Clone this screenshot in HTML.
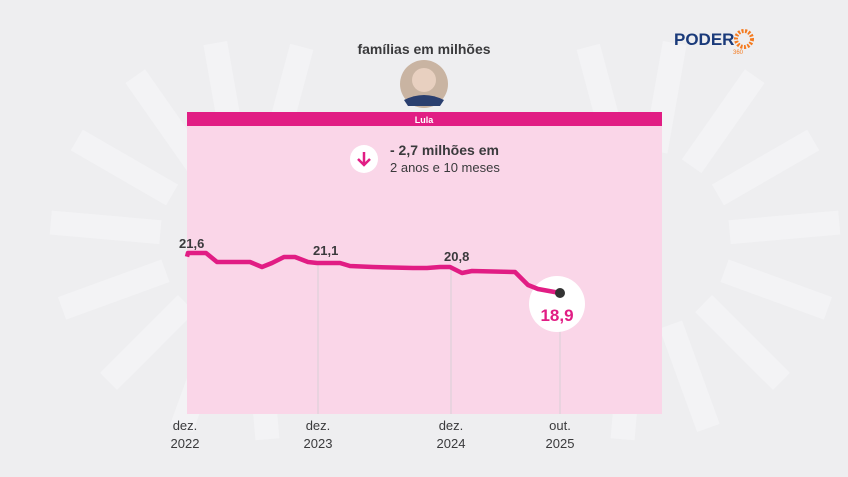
<!DOCTYPE html>
<html><head><style>
body{margin:0;width:848px;height:477px;background:#eeeef0;overflow:hidden;font-family:"Liberation Sans",sans-serif;position:relative}
</style></head><body>
<svg width="848" height="477" style="position:absolute;left:0;top:0">
<g fill="#f3f3f5">
<g transform="translate(250,240)">
<rect x="-12" y="-200" width="24" height="110" transform="rotate(-10)"/><rect x="-12" y="-200" width="24" height="110" transform="rotate(-35)"/><rect x="-12" y="-200" width="24" height="110" transform="rotate(-60)"/><rect x="-12" y="-200" width="24" height="110" transform="rotate(-85)"/><rect x="-12" y="-200" width="24" height="110" transform="rotate(-110)"/><rect x="-12" y="-200" width="24" height="110" transform="rotate(-135)"/><rect x="-12" y="-200" width="24" height="110" transform="rotate(-160)"/><rect x="-12" y="-200" width="24" height="110" transform="rotate(-185)"/><rect x="-12" y="-200" width="24" height="110" transform="rotate(15)"/>
</g>
<g transform="translate(640,240)">
<rect x="-12" y="-200" width="24" height="110" transform="rotate(10)"/><rect x="-12" y="-200" width="24" height="110" transform="rotate(35)"/><rect x="-12" y="-200" width="24" height="110" transform="rotate(60)"/><rect x="-12" y="-200" width="24" height="110" transform="rotate(85)"/><rect x="-12" y="-200" width="24" height="110" transform="rotate(110)"/><rect x="-12" y="-200" width="24" height="110" transform="rotate(135)"/><rect x="-12" y="-200" width="24" height="110" transform="rotate(160)"/><rect x="-12" y="-200" width="24" height="110" transform="rotate(185)"/><rect x="-12" y="-200" width="24" height="110" transform="rotate(-15)"/>
</g>
</g>
<rect x="187" y="112" width="475" height="302" fill="#fad6e8"/>
<rect x="187" y="112" width="475" height="14" fill="#e11d84"/>
<text x="424" y="123" font-size="9" font-weight="bold" fill="#fff" text-anchor="middle">Lula</text>
<text x="424" y="54" font-size="14" font-weight="bold" fill="#3a3a3c" text-anchor="middle">famílias em milhões</text>
<circle cx="424" cy="84" r="24" fill="#c9b4a2"/><circle cx="424" cy="80" r="12" fill="#e8d0c0"/><path d="M404 100 Q424 90 444 100 L440 106 L408 106Z" fill="#2a3f6f"/>
<g stroke="#d8d0d6" stroke-width="1"><line x1="318" y1="262" x2="318" y2="414"/><line x1="451" y1="267" x2="451" y2="414"/><line x1="560" y1="293" x2="560" y2="414"/></g>
<circle cx="364" cy="159" r="14" fill="#fff"/>
<path d="M364 152 V165 M358 159 L364 165 L370 159" stroke="#e11d84" stroke-width="2.5" fill="none"/>
<text x="390" y="155" font-size="14" font-weight="bold" fill="#3a3a3c">- 2,7 milhões em</text>
<text x="390" y="172" font-size="13" fill="#3a3a3c">2 anos e 10 meses</text>
<circle cx="557" cy="304" r="28" fill="#fff"/>
<polyline fill="none" stroke="#e11d84" stroke-width="4.5" stroke-linejoin="round" points="187,256.7 188,253 206,253 217,262 250,262 262,267 272,263 284,257 295,257 308,262 317,263 340,263 350,266 373,267 413,268 427,268 440,267 450,267 462,273 472,271 515,272 528,285 538,289 560,293"/>
<circle cx="560" cy="293" r="5" fill="#333"/>
<g font-size="13" font-weight="bold" fill="#3a3a3c">
<text x="179" y="248">21,6</text><text x="313" y="255">21,1</text><text x="444" y="261">20,8</text></g>
<text x="557" y="321" font-size="17" font-weight="bold" fill="#e11d84" text-anchor="middle">18,9</text>
<g font-size="13" fill="#3a3a3c" text-anchor="middle">
<text x="185" y="430">dez.</text><text x="185" y="448">2022</text>
<text x="318" y="430">dez.</text><text x="318" y="448">2023</text>
<text x="451" y="430">dez.</text><text x="451" y="448">2024</text>
<text x="560" y="430">out.</text><text x="560" y="448">2025</text></g>
<text x="674" y="45" font-size="17" font-weight="bold" fill="#1a3a7a">PODER</text>
<circle cx="744" cy="39" r="8" fill="none" stroke="#f47b20" stroke-width="4" stroke-dasharray="2 1.5"/>
<text x="733" y="54" font-size="6" fill="#f47b20">360</text>
</svg>
</body></html>
